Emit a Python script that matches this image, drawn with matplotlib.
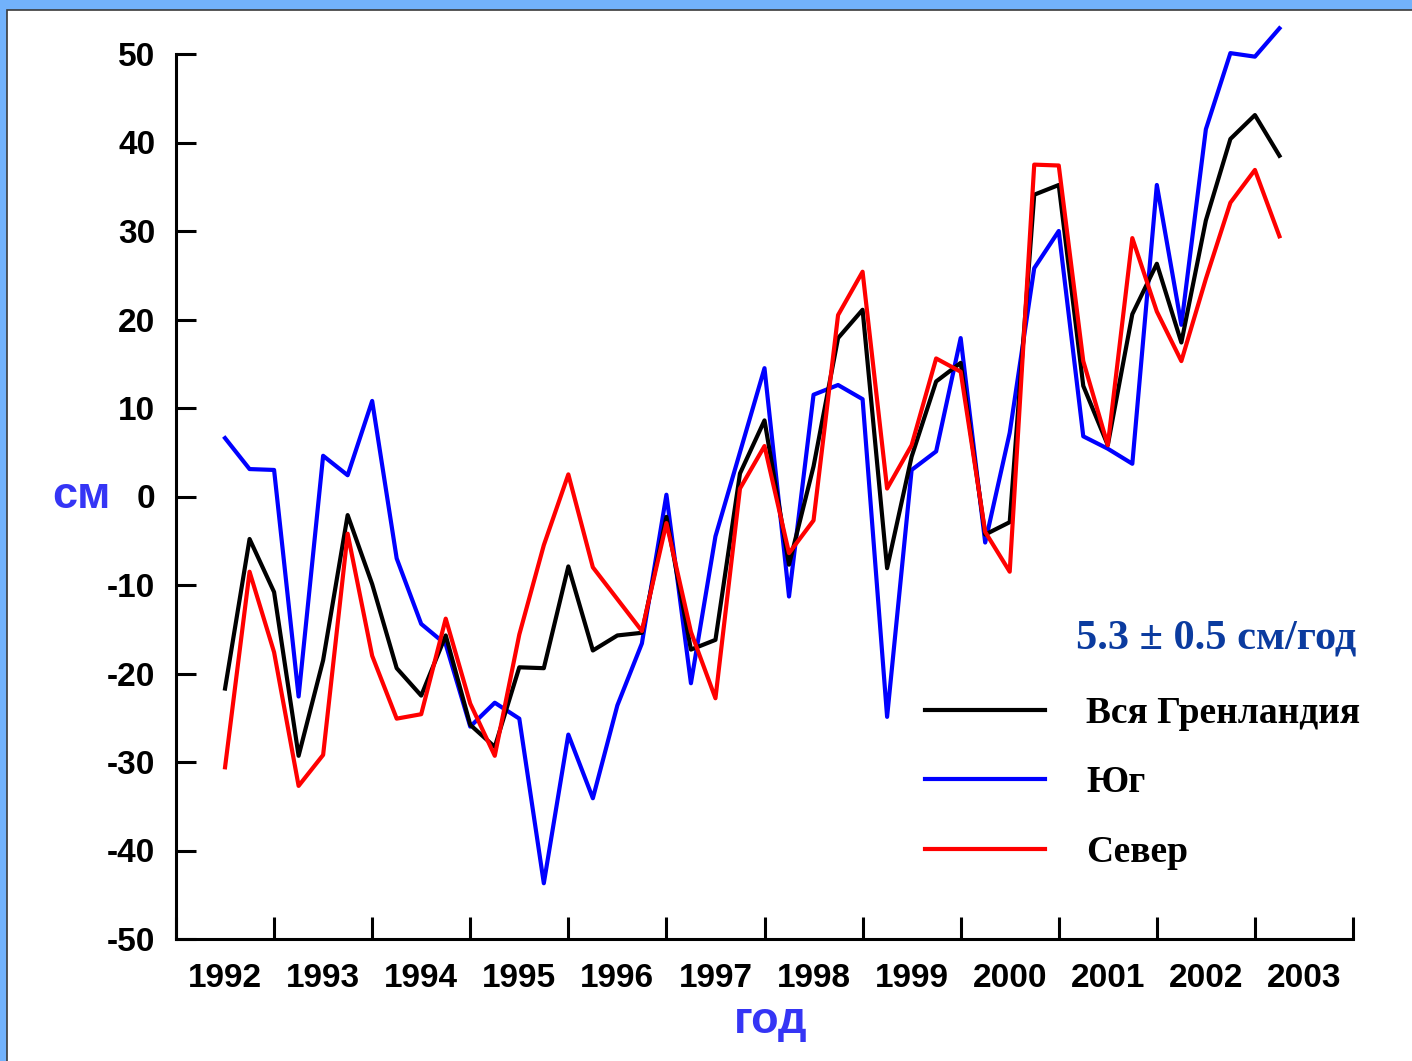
import matplotlib
matplotlib.use("Agg")
import matplotlib.pyplot as plt
from matplotlib.patches import Rectangle
import numpy as np

# Quarterly epochs (decimal years)
times = [1992.50, 1992.75, 1993.00, 1993.25, 1993.50, 1993.75, 1994.00, 1994.25,
         1994.50, 1994.75, 1995.00, 1995.25, 1995.50, 1995.75, 1996.00, 1996.25,
         1996.50, 1996.75, 1997.00, 1997.25, 1997.50, 1997.75, 1998.00, 1998.25,
         1998.50, 1998.75, 1999.00, 1999.25, 1999.50, 1999.75, 2000.00, 2000.25,
         2000.50, 2000.75, 2001.00, 2001.25, 2001.50, 2001.75, 2002.00, 2002.25,
         2002.50, 2002.75, 2003.00, 2003.25]

# Surface elevation change, cm
greenland_all = [-21.7, -4.8, -10.8, -29.3, -18.5, -2.1, -9.9, -19.4, -22.5, -15.7,
                 -25.8, -28.3, -19.3, -19.4, -7.9, -17.4, -15.7, -15.4, -2.3, -17.3,
                 -16.2, 2.6, 8.6, -7.7, 3.4, 17.9, 21.1, -8.1, 4.5, 13.0,
                 15.1, -4.3, -2.9, 34.1, 35.2, 12.5, 5.8, 20.6, 26.3, 17.4,
                 31.2, 40.4, 43.1, 38.5]
south = [6.6, 3.1, 3.0, -22.6, 4.6, 2.4, 10.8, -7.0, -14.4, -16.7,
         -26.0, -23.3, -25.1, -43.7, -26.9, -34.1, -23.6, -16.6, 0.2, -21.1,
         -4.5, 5.0, 14.5, -11.3, 11.5, 12.6, 11.0, -24.9, 3.0, 5.1,
         17.9, -5.2, 7.2, 25.8, 30.0, 6.8, 5.4, 3.7, 35.2, 19.4,
         41.5, 50.1, 49.7, 52.9]
north = [-30.6, -8.5, -17.6, -32.7, -29.2, -4.2, -18.0, -25.1, -24.6, -13.8,
         -23.4, -29.3, -15.6, -5.5, 2.5, -8.0, -11.6, -15.2, -3.0, -15.3,
         -22.8, 0.9, 5.7, -6.4, -2.7, 20.5, 25.4, 0.9, 5.8, 15.6,
         14.1, -4.0, -8.5, 37.5, 37.4, 15.3, 5.8, 29.2, 20.9, 15.3,
         24.6, 33.2, 36.9, 29.4]

series_labels = ["Вся Гренландия", "Юг", "Север"]
year_labels = ["1992", "1993", "1994", "1995", "1996", "1997",
               "1998", "1999", "2000", "2001", "2002", "2003"]
y_ticks = [-50, -40, -30, -20, -10, 0, 10, 20, 30, 40, 50]
trend_text = "5.3 ± 0.5 см/год"

W, H = 1412, 1061
fig = plt.figure(figsize=(W / 100, H / 100), dpi=100)
fig.patch.set_facecolor("#72b2fb")

# white panel with a thin dark border, kept behind everything
panel = Rectangle((7 / W, -0.01), 1.1, 1 - 10 / H + 0.01, transform=fig.transFigure,
                  facecolor="white", edgecolor="#3a3a3a", linewidth=1.2, zorder=-10)
fig.patches.append(panel)

ax = fig.add_axes([176 / W, 1 - 939 / H, (1353 - 176) / W, (939 - 54) / H])
ax.set_facecolor("none")

lw = 3.0
ax.plot(times, south, color="#0000ff", lw=lw, label=series_labels[1], clip_on=False, zorder=3)
ax.plot(times, greenland_all, color="black", lw=lw, label=series_labels[0], clip_on=False, zorder=4)
ax.plot(times, north, color="#ff0000", lw=lw, label=series_labels[2], clip_on=False, zorder=5)

ax.set_xlim(1992.0, 2004.0)
ax.set_ylim(-50, 50)

for s in ["top", "right"]:
    ax.spines[s].set_visible(False)
for s in ["left", "bottom"]:
    ax.spines[s].set_linewidth(2.2)

tick_font = {"family": "Liberation Sans", "weight": "bold", "size": 24}

ax.set_yticks(y_ticks)
ax.set_yticklabels([str(v) for v in y_ticks], fontdict=tick_font)
ax.tick_params(axis="y", direction="in", length=14.5, width=2.2, pad=15)

major_x = np.arange(1992, 2005)
ax.set_xticks(major_x)
ax.set_xticklabels([])
ax.set_xticks([int(y) + 0.5 for y in year_labels], minor=True)
ax.set_xticklabels(year_labels, minor=True, fontdict=tick_font)
ax.tick_params(axis="x", which="major", direction="in", length=16, width=2.2)
ax.tick_params(axis="x", which="minor", length=0, pad=17)

label_color = "#3535f5"
ax.set_ylabel("см", rotation=0, color=label_color, fontsize=32.5,
              fontweight="bold", family="Liberation Sans")
ax.yaxis.set_label_coords((81 - 176) / (1353 - 176), 0.5)
ax.yaxis.label.set_verticalalignment("center")
ax.yaxis.label.set_horizontalalignment("center")
ax.set_xlabel("год", color=label_color, fontsize=32.5, fontweight="bold",
              family="Liberation Sans")
ax.xaxis.set_label_coords((771 - 176) / (1353 - 176), (939 - 1022) / (939 - 54))
ax.xaxis.label.set_verticalalignment("center")

fig.text(1216 / W, 1 - 638 / H, trend_text, ha="center", va="center",
         color="#0b3b9f", fontsize=30.5, fontweight="bold", family="Liberation Serif")

handles, labels = ax.get_legend_handles_labels()
order = [labels.index(l) for l in series_labels]
leg = ax.legend([handles[i] for i in order], [labels[i] for i in order],
                loc="center left",
                bbox_to_anchor=((925 - 176) / (1353 - 176), (939 - 783) / (939 - 54)),
                frameon=False, borderpad=0, borderaxespad=0,
                handlelength=3.2, handletextpad=1.1, labelspacing=0.92,
                prop={"family": "Liberation Serif", "weight": "bold", "size": 27})
for line in leg.get_lines():
    line.set_linewidth(3.0)

fig.savefig("out.png", dpi=100)
